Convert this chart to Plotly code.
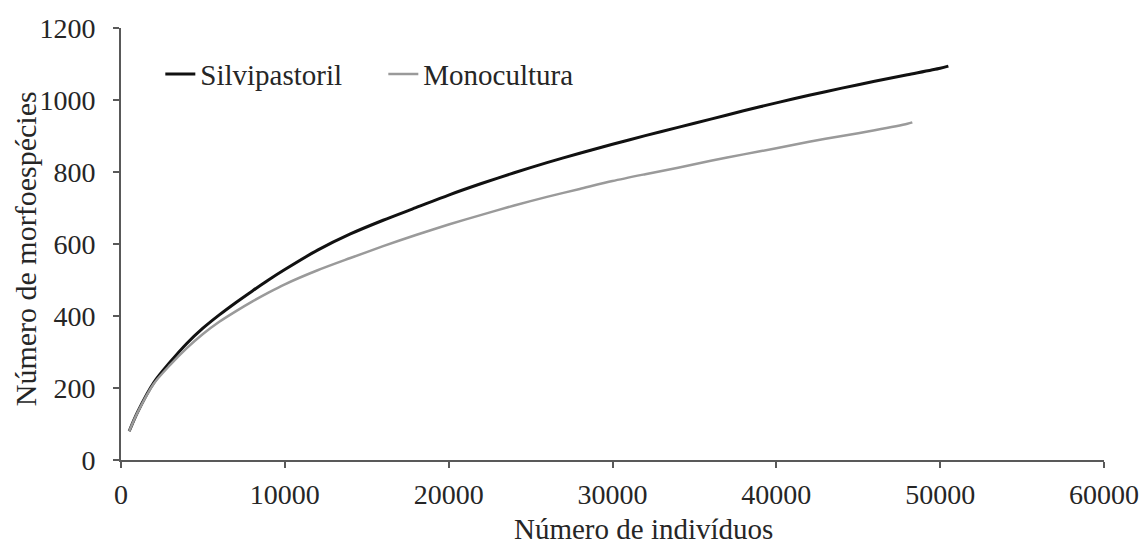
import plotly.graph_objects as go

# Number of individuals (x) and number of morphospecies (y)
silvi_x = [500, 1000, 2000, 3000, 4000, 5000, 6000, 7000, 8000, 9000, 10000, 12000, 14000,
           16000, 18000, 20000, 22000, 24000, 26000, 28000, 30000, 32000, 34000,
           36000, 38000, 40000, 42000, 44000, 46000, 48000, 50000, 50500]
silvi_y = [80, 132, 215, 272, 323, 366, 403, 437, 469, 500, 529, 583, 628,
           666, 701, 736, 768, 798, 826, 852, 877, 901, 924,
           947, 970, 992, 1013, 1033, 1052, 1070, 1088, 1094]

mono_x = [500, 1000, 2000, 3000, 4000, 5000, 6000, 7000, 8000, 9000, 10000, 12000, 14000,
          16000, 18000, 20000, 22000, 24000, 26000, 28000, 30000, 32000, 34000,
          36000, 38000, 40000, 42000, 44000, 46000, 48000, 48300]
mono_y = [80, 131, 212, 264, 310, 350, 384, 413, 440, 465, 488, 527, 561,
          594, 625, 654, 681, 707, 731, 753, 775, 794, 812,
          831, 849, 866, 884, 900, 916, 934, 938]

x_ticks = [0, 10000, 20000, 30000, 40000, 50000, 60000]
y_ticks = [0, 200, 400, 600, 800, 1000, 1200]

FONT = "Times New Roman, Liberation Serif, Tinos, serif"
TXT = "#262626"
AX = "#595959"

fig = go.Figure()
fig.add_trace(go.Scatter(x=silvi_x, y=silvi_y, mode="lines", name="Silvipastoril",
                         line=dict(color="#111111", width=3, shape="spline", smoothing=0.8)))
fig.add_trace(go.Scatter(x=mono_x, y=mono_y, mode="lines", name="Monocultura",
                         line=dict(color="#9a9a9a", width=2.5, shape="spline", smoothing=0.8)))

fig.update_layout(
    width=1142, height=546,
    margin=dict(l=121, r=38, t=28, b=86),
    paper_bgcolor="white", plot_bgcolor="white",
    font=dict(family=FONT, size=28, color=TXT),
    showlegend=True,
    legend=dict(orientation="h", x=0.04, y=0.893, xanchor="left", yanchor="middle",
                font=dict(family=FONT, size=29, color=TXT),
                bgcolor="rgba(0,0,0,0)", entrywidth=178, entrywidthmode="pixels"),
    xaxis=dict(range=[0, 60000], tickvals=x_ticks, ticktext=[str(v) for v in x_ticks],
               showgrid=False, zeroline=False, showline=True, linecolor=AX, linewidth=2,
               ticks="outside", ticklen=6, tickwidth=2, tickcolor=AX, automargin=False,
               tickfont=dict(family=FONT, size=28, color=TXT), ticklabelstandoff=2),
    yaxis=dict(range=[0, 1200], tickvals=y_ticks, ticktext=[str(v) for v in y_ticks],
               showgrid=False, zeroline=False, showline=True, linecolor=AX, linewidth=2,
               ticks="outside", ticklen=6, tickwidth=2, tickcolor=AX, automargin=False,
               tickfont=dict(family=FONT, size=28, color=TXT), ticklabelstandoff=12),
    annotations=[
        dict(text="Número de indivíduos", xref="paper", yref="paper",
             x=(643 - 121) / 983, y=-(528 - 459.5) / 431.5, xanchor="center", yanchor="middle",
             showarrow=False, font=dict(family=FONT, size=29, color=TXT)),
        dict(text="Número de morfoespécies", xref="paper", yref="paper",
             x=-(121 - 25) / 983, y=(459.5 - 249) / 431.5, xanchor="center", yanchor="middle",
             textangle=-90, showarrow=False, font=dict(family=FONT, size=30, color=TXT)),
    ],
)

fig.write_html("out.html")
